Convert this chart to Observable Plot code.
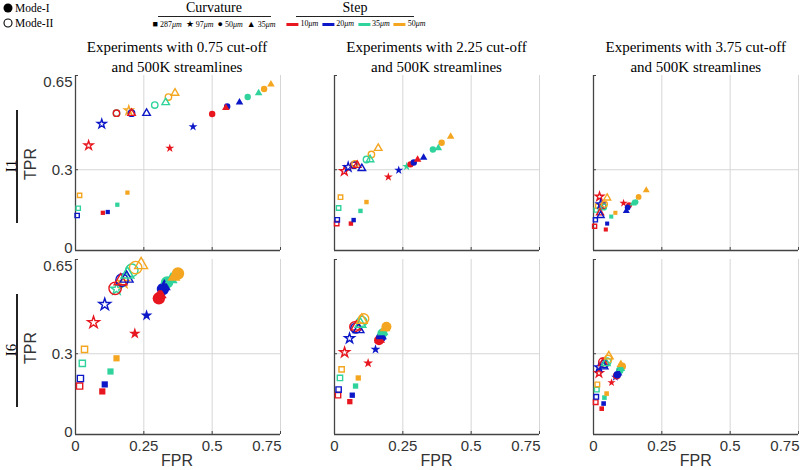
<!DOCTYPE html>
<html><head><meta charset="utf-8">
<script src="https://cdn.jsdelivr.net/npm/d3@7"></script>
<script src="https://cdn.jsdelivr.net/npm/@observablehq/plot@0.6"></script>
<style>
body{margin:0;background:#fff;}
#wrap{position:relative;width:800px;height:470px;overflow:hidden;font-family:"Liberation Serif","Times New Roman",serif;color:#000;}
#chart{position:absolute;left:0;top:0;z-index:0;}
.abs{position:absolute;white-space:nowrap;z-index:1;}
.c{transform:translateX(-50%);text-align:center;}
.rot{transform:translate(-50%,-50%) rotate(-90deg);}
.sans{font-family:"Liberation Sans",Arial,sans-serif;color:#333;}
.bar{display:inline-block;width:12px;height:3px;vertical-align:middle;margin:0 2px 0 4px;}
svg.mk{vertical-align:-1px;margin-right:2px;}
</style></head><body>
<div id="wrap"><div id="chart"></div></div>
<script>
// ---------- categories & ticks ----------
const cutoffs = ["0.75", "2.25", "3.75"];
const indices = ["I1", "I6"];
const curvatures = ["287", "97", "50", "35"];
const curvatureLabels = ["287", "97", "50", "35"];
const steps = ["10", "20", "35", "50"];
const modes = ["I", "II"];
const xTicks = [0, 0.25, 0.5, 0.75];
const yTicks = [0, 0.3, 0.65];

// ---------- data: [FPR, TPR, curvature, step, mode] ----------
const I1_075 = [
  [0.006,0.13,"287","20","II"],[0.01,0.157,"287","35","II"],[0.015,0.205,"287","50","II"],
  [0.048,0.39,"97","10","II"],[0.096,0.47,"97","20","II"],[0.195,0.52,"97","50","II"],
  [0.15,0.51,"50","35","II"],[0.15,0.51,"50","10","II"],[0.205,0.51,"35","10","II"],[0.205,0.51,"50","20","II"],
  [0.26,0.51,"35","20","II"],[0.29,0.54,"50","35","II"],[0.33,0.55,"35","35","II"],
  [0.34,0.57,"50","50","II"],[0.364,0.585,"35","50","II"],
  [0.1,0.14,"287","10","I"],[0.118,0.143,"287","20","I"],[0.153,0.17,"287","35","I"],[0.19,0.215,"287","50","I"],
  [0.345,0.38,"97","10","I"],[0.43,0.46,"97","20","I"],
  [0.5,0.507,"50","10","I"],[0.555,0.535,"50","20","I"],[0.55,0.53,"35","10","I"],[0.6,0.55,"35","20","I"],
  [0.63,0.57,"50","35","I"],[0.67,0.585,"35","35","I"],[0.69,0.6,"50","50","I"],[0.715,0.617,"35","50","I"]
];
const I1_225 = [
  [0.008,0.1,"287","10","II"],[0.01,0.114,"287","20","II"],[0.015,0.158,"287","35","II"],[0.022,0.198,"287","50","II"],
  [0.036,0.295,"97","10","II"],[0.05,0.31,"97","20","II"],
  [0.07,0.317,"50","10","II"],[0.072,0.318,"50","20","II"],[0.075,0.322,"50","50","II"],[0.083,0.317,"35","10","II"],
  [0.1,0.305,"35","20","II"],[0.117,0.338,"50","35","II"],[0.13,0.338,"35","35","II"],
  [0.135,0.357,"50","50","II"],[0.16,0.38,"35","50","II"],
  [0.06,0.1,"287","10","I"],[0.07,0.113,"287","20","I"],[0.095,0.147,"287","35","I"],[0.117,0.18,"287","50","I"],
  [0.197,0.273,"97","10","I"],[0.235,0.298,"97","20","I"],[0.264,0.312,"97","35","I"],
  [0.278,0.32,"50","10","I"],[0.29,0.327,"50","20","I"],[0.304,0.338,"35","10","I"],[0.326,0.345,"35","20","I"],
  [0.36,0.375,"50","35","I"],[0.38,0.38,"35","35","I"],[0.392,0.4,"50","50","I"],[0.425,0.423,"35","50","I"]
];
const I1_375 = [
  [0.004,0.09,"287","10","II"],[0.007,0.114,"287","20","II"],[0.01,0.15,"287","35","II"],[0.015,0.165,"287","50","II"],
  [0.022,0.2,"97","10","II"],[0.026,0.172,"97","20","II"],
  [0.035,0.165,"50","10","II"],[0.037,0.162,"50","35","II"],[0.04,0.172,"50","50","II"],
  [0.024,0.14,"35","10","II"],[0.026,0.13,"35","20","II"],[0.05,0.195,"35","50","II"],
  [0.045,0.078,"287","10","I"],[0.05,0.1,"287","20","I"],[0.065,0.126,"287","35","I"],[0.08,0.14,"287","50","I"],
  [0.11,0.176,"97","10","I"],[0.13,0.168,"50","10","I"],[0.125,0.16,"50","20","I"],[0.12,0.147,"35","20","I"],
  [0.145,0.175,"35","35","I"],[0.154,0.18,"50","35","I"],[0.165,0.199,"50","50","I"],[0.193,0.224,"35","50","I"]
];
const I6_075 = [
  [0.015,0.18,"287","10","II"],[0.018,0.208,"287","20","II"],[0.025,0.264,"287","35","II"],[0.033,0.316,"287","50","II"],
  [0.066,0.416,"97","10","II"],[0.107,0.483,"97","20","II"],[0.15,0.54,"97","35","II"],[0.175,0.565,"97","50","II"],
  [0.145,0.543,"50","10","II"],[0.17,0.573,"50","20","II"],[0.206,0.61,"50","35","II"],[0.22,0.62,"50","50","II"],
  [0.165,0.57,"35","10","II"],[0.187,0.58,"35","20","II"],[0.19,0.595,"35","35","II"],[0.24,0.63,"35","50","II"],
  [0.098,0.16,"287","10","I"],[0.107,0.186,"287","20","I"],[0.128,0.234,"287","35","I"],[0.15,0.283,"287","50","I"],
  [0.217,0.375,"97","10","I"],[0.26,0.442,"97","20","I"],
  [0.31,0.52,"35","10","I"],[0.325,0.55,"35","20","I"],[0.35,0.576,"35","35","I"],[0.36,0.585,"35","50","I"],
  [0.305,0.506,"50","10","I"],[0.32,0.54,"50","20","I"],[0.335,0.565,"50","35","I"],[0.375,0.598,"50","50","I"]
];
const I6_225 = [
  [0.013,0.146,"287","10","II"],[0.015,0.167,"287","20","II"],[0.02,0.21,"287","35","II"],[0.026,0.242,"287","50","II"],
  [0.037,0.305,"97","10","II"],[0.055,0.357,"97","20","II"],
  [0.074,0.4,"50","10","II"],[0.078,0.395,"50","20","II"],[0.1,0.42,"50","35","II"],[0.107,0.43,"50","50","II"],
  [0.08,0.4,"35","10","II"],[0.088,0.39,"35","20","II"],[0.095,0.41,"35","35","II"],[0.1,0.425,"35","50","II"],
  [0.056,0.122,"287","10","I"],[0.065,0.146,"287","20","I"],[0.077,0.18,"287","35","I"],[0.087,0.21,"287","50","I"],
  [0.123,0.265,"97","10","I"],[0.15,0.316,"97","20","I"],
  [0.165,0.352,"35","10","I"],[0.172,0.365,"35","20","I"],[0.178,0.38,"35","35","I"],[0.185,0.395,"35","50","I"],
  [0.163,0.35,"50","10","I"],[0.17,0.36,"50","20","I"],[0.175,0.375,"50","35","I"],[0.19,0.4,"50","50","I"]
];
const I6_375 = [
  [0.008,0.12,"287","10","II"],[0.01,0.14,"287","20","II"],[0.012,0.167,"287","35","II"],[0.014,0.186,"287","50","II"],
  [0.02,0.228,"97","10","II"],[0.02,0.25,"97","20","II"],
  [0.033,0.27,"50","10","II"],[0.04,0.262,"50","20","II"],[0.05,0.27,"50","35","II"],[0.053,0.28,"50","50","II"],
  [0.035,0.265,"35","10","II"],[0.037,0.253,"35","20","II"],[0.045,0.265,"35","35","II"],[0.056,0.29,"35","50","II"],
  [0.03,0.096,"287","10","I"],[0.037,0.115,"287","20","I"],[0.04,0.137,"287","35","I"],[0.048,0.152,"287","50","I"],
  [0.066,0.193,"97","10","I"],[0.08,0.213,"97","20","I"],
  [0.09,0.228,"35","20","I"],[0.1,0.245,"35","35","I"],[0.1,0.26,"35","50","I"],
  [0.085,0.218,"50","10","I"],[0.087,0.222,"50","20","I"],[0.096,0.238,"50","35","I"],[0.105,0.253,"50","50","I"]
];

// ---------- styles ----------
const stepColors = ["#e8161e", "#0c18c8", "#2fd39b", "#f4a620"];
const symbolOf = {"287": "square", "97": "star", "50": "circle", "35": "triangle"};
const radiusOf = {
  "I1": {"0.75": {"287":2.4,"97":2.8,"50":3.2,"35":2.8}, "2.25": {"287":2.5,"97":2.8,"50":3.2,"35":2.8}, "3.75": {"287":2.3,"97":2.6,"50":2.9,"35":2.6}},
  "I6": {"0.75": {"287":3.5,"97":3.7,"50":6.2,"35":4.8}, "2.25": {"287":3.0,"97":3.1,"50":5.0,"35":4.0}, "3.75": {"287":2.6,"97":2.6,"50":3.8,"35":3.2}}
};

const panels = [["0.75","I1",I1_075],["2.25","I1",I1_225],["3.75","I1",I1_375],
                ["0.75","I6",I6_075],["2.25","I6",I6_225],["3.75","I6",I6_375]];
const rows = panels.flatMap(([c, ix, arr]) => arr.map(([fpr, tpr, curv, step, mode]) => ({cutoff: c, index: ix, fpr, tpr, curv, step, mode})));

const dotMarks = [];
for (const m of ["II", "I"]) for (const c of cutoffs) for (const ix of indices) for (const cv of curvatures) {
  const data = rows.filter(d => d.cutoff === c && d.index === ix && d.curv === cv && d.mode === m);
  if (!data.length) continue;
  const base = {x: "fpr", y: "tpr", fx: "cutoff", fy: "index", symbol: symbolOf[cv], r: radiusOf[ix][c][cv]};
  dotMarks.push(m === "I"
    ? Plot.dot(data, {...base, fill: "step", stroke: "none"})
    : Plot.dot(data, {...base, stroke: "step", fill: "none", strokeWidth: 1.4}));
}

const yLabelCommon = {tickFormat: d => String(d), tickSize: 0, tickPadding: 3, facetAnchor: "left", label: null, color: "#333"};
const xLabelCommon = {tickFormat: d => String(d), tickSize: 0, tickPadding: 6, facetAnchor: "bottom", label: null, color: "#333"};

const chart = Plot.plot({
  width: 800, height: 470,
  marginLeft: 75, marginRight: 2, marginTop: 74, marginBottom: 35,
  style: {background: "transparent", fontFamily: "Liberation Sans, Arial, sans-serif", fontSize: "15px", overflow: "visible"},
  x: {domain: [0, 0.75]},
  y: {domain: [0, 0.65]},
  fx: {domain: cutoffs, axis: null, paddingInner: 0.21, paddingOuter: 0},
  fy: {domain: indices, axis: null, paddingInner: 0.0486, paddingOuter: 0},
  color: {domain: steps, range: stepColors},
  marks: [
    Plot.gridX({ticks: [0.25, 0.5, 0.75], stroke: "#d6d6d6", strokeOpacity: 1, strokeWidth: 1}),
    Plot.gridY({ticks: [0.3], stroke: "#d6d6d6", strokeOpacity: 1, strokeWidth: 1}),
    Plot.ruleX([0], {stroke: "#444", strokeWidth: 1.3}),
    Plot.ruleY([0], {stroke: "#444", strokeWidth: 1.3}),
    Plot.axisY({ticks: yTicks, text: null, tickSize: -3, facetAnchor: null, label: null, stroke: "#444"}),
    Plot.axisX({ticks: xTicks, text: null, tickSize: -3, facetAnchor: null, label: null, stroke: "#444"}),
    ...dotMarks,
    Plot.axisY({...yLabelCommon, ticks: yTicks.slice(0, 1), dy: -2}),
    Plot.axisY({...yLabelCommon, ticks: yTicks.slice(1, 2)}),
    Plot.axisY({...yLabelCommon, ticks: yTicks.slice(2), dy: 7}),
    Plot.axisX({...xLabelCommon, ticks: xTicks.slice(0, 3)}),
    Plot.axisX({...xLabelCommon, ticks: xTicks.slice(3), textAnchor: "end", dx: 1})
  ]
});
document.getElementById("chart").appendChild(chart);

// ---------- HTML text: legend, titles, labels ----------
const wrap = document.getElementById("wrap");
function add(html, css, cls = "abs") {
  const el = document.createElement("div");
  el.className = cls; el.innerHTML = html; el.style.cssText = css; wrap.appendChild(el); return el;
}
// Mode legend
const circ = (filled) => `<svg class="mk" width="10" height="10" viewBox="0 0 10 10"><circle cx="5" cy="5" r="${filled ? 4.5 : 4}" fill="${filled ? "#000" : "none"}" stroke="#000" stroke-width="${filled ? 0 : 1.1}"/></svg>`;
add(circ(true) + "Mode-I", "left:3px;top:1px;font-size:11.5px;line-height:14px;");
add(circ(false) + "Mode-II", "left:3px;top:16px;font-size:11.5px;line-height:14px;");
// Curvature legend
const curvGlyph = {"287": "&#9632;", "97": "&#9733;", "50": "&#9679;", "35": "&#9650;"};
add("Curvature", "left:214px;top:0px;font-size:14px;line-height:16px;", "abs c");
add("", "left:158px;top:16px;width:113px;height:1.3px;background:#222;");
add(curvatures.map((c, i) => `<span style="font-size:9px">${curvGlyph[c]}</span> ${curvatureLabels[i]}<i>μm</i>`).join("&nbsp;&nbsp;"),
    "left:214px;top:18px;font-size:8px;line-height:12px;", "abs c");
// Step legend
add("Step", "left:355px;top:0px;font-size:14px;line-height:16px;", "abs c");
add("", "left:296px;top:16px;width:118px;height:1.3px;background:#222;");
add(steps.map((s, i) => `<span class="bar" style="background:${stepColors[i]}"></span>${s}<i>μm</i>`).join(""),
    "left:354px;top:18px;font-size:8px;line-height:12px;", "abs c");
// Column titles
const colCenters = [177, 436.5, 695.8];
cutoffs.forEach((c, i) => add(`Experiments with ${c} cut-off<br>and 500K streamlines`,
  `left:${colCenters[i]}px;top:37px;font-size:15px;line-height:20px;`, "abs c"));
// FPR labels
colCenters.forEach(x => add("FPR", `left:${x}px;top:452px;font-size:16px;line-height:18px;`, "abs c sans"));
// Row labels
const rowCenters = [166, 350];
indices.forEach((ix, i) => {
  add(ix, `left:11px;top:${rowCenters[i]}px;font-size:15px;line-height:16px;`, "abs rot");
  add("", `left:16px;top:${rowCenters[i] - 56}px;width:1.5px;height:113px;background:#222;`);
  add("TPR", `left:31px;top:${rowCenters[i] - 2}px;font-size:16px;line-height:18px;`, "abs rot sans");
});
</script>
</body></html>
